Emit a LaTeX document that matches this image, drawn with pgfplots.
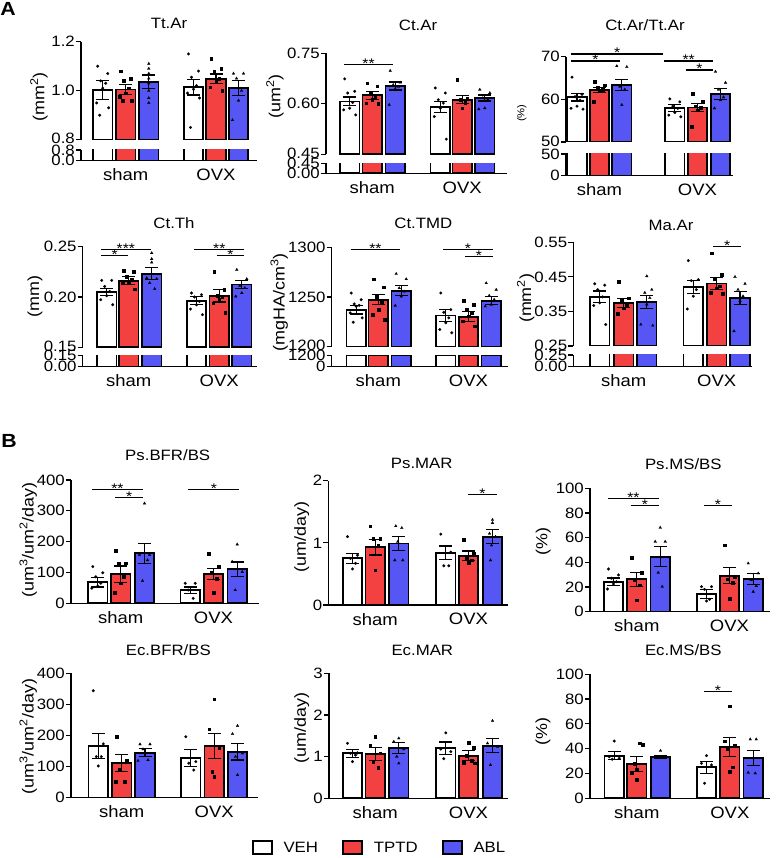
\documentclass[border=0pt]{standalone}
\usepackage{fontspec}
\setmainfont{Liberation Sans}[FakeStretch=1.12]
\usepackage{pgfplots}
\pgfplotsset{compat=1.18}
\definecolor{tred}{RGB}{243,64,64}
\definecolor{ablue}{RGB}{86,86,245}
\newcommand\fs{\fontsize{15pt}{15pt}\selectfont}
\newcommand\yfs{\fontsize{16pt}{16pt}\selectfont}
\newcommand\cfs{\fontsize{16.5pt}{16.5pt}\selectfont}
\newcommand\sfs{\fontsize{14pt}{14pt}\selectfont}
\newcommand\up[1]{\raisebox{2pt}{#1}}
\newcommand\sig[4]{\draw[line width=1.1pt, black] (axis cs:#1,#3) -- (axis cs:#2,#3) node[midway, above, inner sep=0pt, yshift=-4.5pt, font=\sfs] {#4};}
\pgfplotsset{
  base/.style={scale only axis, clip mode=individual, anchor=south west,
    axis line style={line width=1.2pt, black},
    every tick/.style={line width=1.2pt, black},
    tick align=outside, major tick length=5pt,
    yticklabel style={font=\fs, inner sep=1pt},
    xticklabel style={font=\cfs, inner sep=1pt, yshift=-2pt},
    xtick style={draw=none}},
  upper/.style={base, axis x line=none, axis y line*=left, xtick=\empty},
  lower/.style={base, axis x line*=bottom, axis y line*=left},
  full/.style={base, axis x line*=bottom, axis y line*=left},
  barN/.style={ybar, bar width=19.5pt, bar shift=0pt, draw=black, line width=1.8pt},
  barE/.style={barN, error bars/y dir=both, error bars/y explicit,
    error bars/error bar style={line width=1.2pt, black},
    error bars/error mark options={rotate=90, line width=1.2pt, black, mark size=6.5pt}},
  veh/.style={fill=white}, tptd/.style={fill=tred}, abl/.style={fill=ablue},
  vp/.style={only marks, mark=*, mark size=1.4pt, mark options={black, fill=black, line width=0.2pt}},
  tp/.style={only marks, mark=square*, mark size=1.3pt, mark options={black, fill=black, line width=0.2pt}},
  ap/.style={only marks, mark=triangle*, mark size=1.6pt, mark options={black, fill=black, line width=0.2pt}},
}
\begin{document}
\begin{tikzpicture}
\path[use as bounding box] (0,0) rectangle (777pt,858pt);
% ---------------- A1 Tt.Ar
\begin{axis}[upper, at={(81pt,718.3pt)}, width=176pt, height=98pt, xmin=81, xmax=257, ymin=0.8, ymax=1.2,
  ytick={0.8,1.0,1.2}, yticklabels={\up{0.8},1.0,1.2}]
\addplot[veh, barE] coordinates {(102.7,1.003) +- (0,0.04) (193.5,1.014) +- (0,0.032)};
\addplot[tptd, barE] coordinates {(125.8,1.005) +- (0,0.02) (216,1.048) +- (0,0.02)};
\addplot[abl, barE] coordinates {(148.8,1.037) +- (0,0.027) (238.5,1.01) +- (0,0.03)};
\addplot[vp] coordinates {(97.7,1.10) (107.7,1.07) (100.7,1.04) (105.7,1.03) (102.7,1.01) (96.7,0.95) (108.7,0.93) (99.7,0.90)
  (188.5,1.15) (198.5,1.08) (191.5,1.055) (196.5,1.02) (193.5,1.006) (187.5,0.99) (199.5,0.97) (190.5,0.85)};
\addplot[tp] coordinates {(120.8,1.08) (130.8,1.05) (123.8,1.04) (128.8,1.01) (125.8,0.99) (119.8,0.975) (131.8,0.96) (122.8,0.96)
  (211,1.13) (221,1.09) (214,1.08) (219,1.05) (216,1.037) (210,1.014) (222,1.0)};
\addplot[ap] coordinates {(148.8,1.11) (148.8,1.09) (148.8,1.07) (148.8,1.05) (148.8,1.03) (148.8,1.00) (148.8,0.97) (148.8,0.95)
  (233.5,1.07) (243.5,1.07) (236.5,1.05) (241.5,1.00) (238.5,0.96) (232.5,0.88)};
\end{axis}
\begin{axis}[lower, at={(81pt,697.3pt)}, width=176pt, height=10.7pt, xmin=81, xmax=257, ymin=0, ymax=0.8,
  ytick={0,0.8}, yticklabels={0.0,0.8}, xtick={125.8,216}, xticklabels={sham,OVX}]
\addplot[veh, barN] coordinates {(102.7,1.003) (193.5,1.014)};
\addplot[tptd, barN] coordinates {(125.8,1.005) (216,1.048)};
\addplot[abl, barN] coordinates {(148.8,1.037) (238.5,1.01)};
\end{axis}
\node[font=\fs] at (169pt,835pt) {Tt.Ar};
\node[font=\yfs, rotate=90] at (39pt,761pt) {(mm\textsuperscript{2})};
\node[font=\fontsize{19pt}{19pt}\selectfont\bfseries] at (8pt,849pt) {A};
% ---------------- A2 Ct.Ar
\begin{axis}[upper, at={(326pt,703.7pt)}, width=181pt, height=101pt, xmin=326, xmax=507, ymin=0.45, ymax=0.75,
  ytick={0.45,0.60,0.75}, yticklabels={\up{0.45},0.60,0.75}]
\addplot[veh, barE] coordinates {(349.7,0.607) +- (0,0.013) (440.3,0.590) +- (0,0.016)};
\addplot[tptd, barE] coordinates {(372.2,0.625) +- (0,0.012) (462.2,0.612) +- (0,0.012)};
\addplot[abl, barE] coordinates {(395.2,0.653) +- (0,0.012) (484.8,0.617) +- (0,0.009)};
\addplot[vp] coordinates {(344.7,.674) (354.7,.637) (347.7,.632) (352.7,.604) (349.7,.587) (343.7,.582) (355.7,.567)
  (435.3,.647) (445.3,.632) (438.3,.612) (443.3,.602) (440.3,.587) (434.3,.562) (446.3,.495)};
\addplot[tp] coordinates {(367.2,.661) (377.2,.653) (370.2,.632) (375.2,.622) (372.2,.612) (366.2,.602) (378.2,.60)
  (457.2,.671) (467.2,.615) (460.2,.612) (465.2,.604) (462.2,.587)};
\addplot[ap] coordinates {(390.2,.698) (400.2,.663) (393.2,.656) (398.2,.651) (395.2,.644) (389.2,.597)
  (479.8,.642) (489.8,.632) (482.8,.617) (487.8,.612) (484.8,.587) (478.8,.584)};
\sig{344.3}{392.7}{0.7173}{**}
\end{axis}
\begin{axis}[lower, at={(326pt,684.7pt)}, width=181pt, height=10pt, xmin=326, xmax=507, ymin=0, ymax=0.45,
  ytick={0,0.45}, yticklabels={0.00,0.45}, xtick={372.2,462.2}, xticklabels={sham,OVX}]
\addplot[veh, barN] coordinates {(349.7,0.607) (440.3,0.590)};
\addplot[tptd, barN] coordinates {(372.2,0.625) (462.2,0.612)};
\addplot[abl, barN] coordinates {(395.2,0.653) (484.8,0.617)};
\end{axis}
\node[font=\fs] at (418pt,833pt) {Ct.Ar};
\node[font=\yfs, rotate=90] at (275pt,761.3pt) {(um\textsuperscript{2})};
% ---------------- A3 Ct.Ar/Tt.Ar
\begin{axis}[upper, at={(566pt,716pt)}, width=167pt, height=85.3pt, xmin=566, xmax=733, ymin=50, ymax=70,
  ytick={50,60,70}, yticklabels={\up{50},60,70}]
\addplot[veh, barE] coordinates {(577,60.5) +- (0,0.9) (674.8,57.9) +- (0,0.8)};
\addplot[tptd, barE] coordinates {(599.5,62.2) +- (0,0.6) (697.5,58.1) +- (0,1.0)};
\addplot[abl, barE] coordinates {(621.8,63.3) +- (0,1.3) (720.5,61.2) +- (0,1.25)};
\addplot[vp] coordinates {(572,65.2) (582,61.2) (575,60.6) (580,59.8) (577,58.4) (571,57.9) (583,57.7)
  (669.8,60.1) (679.8,59.4) (672.8,58.4) (677.8,57.9) (674.8,56.9) (668.8,56.3) (680.8,55.9)};
\addplot[tp] coordinates {(594.5,64.1) (604.5,63.3) (597.5,62.8) (602.5,62.3) (599.5,62.0) (593.5,59.4)
  (692.5,61.4) (702.5,59.4) (695.5,58.4) (700.5,58.1) (697.5,57.5) (691.5,53.6)};
\addplot[ap] coordinates {(616.8,67.8) (626.8,67.6) (619.8,63.0) (624.8,62.3) (621.8,58.7)
  (715.5,66.5) (725.5,63.9) (718.5,62.3) (723.5,60.5) (720.5,59.8) (714.5,57.9)};
\sig{571}{663.3}{70.63}{*}
\sig{571}{620}{68.99}{*}
\sig{664}{713.3}{68.99}{**}
\sig{685.7}{713.3}{66.89}{*}
\end{axis}
\begin{axis}[lower, at={(566pt,682.3pt)}, width=167pt, height=21.7pt, xmin=566, xmax=733, ymin=0, ymax=50,
  ytick={0,50}, yticklabels={0,50}, xtick={599.5,697.5}, xticklabels={sham,OVX}]
\addplot[veh, barN] coordinates {(577,60.5) (674.8,57.9)};
\addplot[tptd, barN] coordinates {(599.5,62.2) (697.5,58.1)};
\addplot[abl, barN] coordinates {(621.8,63.3) (720.5,61.2)};
\end{axis}
\node[font=\fs] at (645pt,833pt) {Ct.Ar/Tt.Ar};
\node[font=\fontsize{10pt}{10pt}\selectfont, rotate=90] at (521.7pt,744.7pt) {(\%)};
% ---------------- A4 Ct.Th
\begin{axis}[upper, at={(82.7pt,510.7pt)}, width=174.3pt, height=100.6pt, xmin=82.7, xmax=257, ymin=0.15, ymax=0.25,
  ytick={0.15,0.20,0.25}, yticklabels={\up{0.15},0.20,0.25}]
\addplot[veh, barE] coordinates {(106.7,0.2046) +- (0,0.0035) (196.5,0.1963) +- (0,0.004)};
\addplot[tptd, barE] coordinates {(128.8,0.2162) +- (0,0.004) (219.2,0.2013) +- (0,0.0063)};
\addplot[abl, barE] coordinates {(151.7,0.2232) +- (0,0.0058) (241.8,0.2125) +- (0,0.004)};
\addplot[vp] coordinates {(101.7,.2165) (111.7,.2165) (104.7,.2105) (109.7,.2056) (106.7,.2013) (100.7,.1973) (112.7,.1923)
  (191.5,.204) (201.5,.2023) (194.5,.200) (199.5,.1956) (196.5,.1923) (190.5,.188) (202.5,.1824)};
\addplot[tp] coordinates {(123.8,.226) (133.8,.2255) (126.8,.2205) (131.8,.2172) (128.8,.2155) (122.8,.2139) (134.8,.208)
  (214.2,.2255) (224.2,.2073) (217.2,.2013) (222.2,.200) (219.2,.1973) (213.2,.194) (225.2,.1847)};
\addplot[ap] coordinates {(151.7,.2437) (151.7,.2378) (151.7,.2344) (146.7,.2189) (156.7,.2179) (149.7,.2139) (154.7,.208)
  (236.8,.2271) (246.8,.2179) (239.8,.2112) (244.8,.209) (241.8,.204) (235.8,.2006)};
\sig{101}{150.7}{0.2474}{***}
\sig{101}{128.3}{0.2408}{*}
\sig{194.3}{244.3}{0.2474}{**}
\sig{216.7}{244.3}{0.2408}{*}
\end{axis}
\begin{axis}[lower, at={(82.7pt,491.3pt)}, width=174.3pt, height=11pt, xmin=82.7, xmax=257, ymin=0, ymax=0.15,
  ytick={0,0.15}, yticklabels={0.00,0.15}, xtick={128.8,219.2}, xticklabels={sham,OVX}]
\addplot[veh, barN] coordinates {(106.7,0.2046) (196.5,0.1963)};
\addplot[tptd, barN] coordinates {(128.8,0.2162) (219.2,0.2013)};
\addplot[abl, barN] coordinates {(151.7,0.2232) (241.8,0.2125)};
\end{axis}
\node[font=\fs] at (174pt,634.7pt) {Ct.Th};
\node[font=\yfs, rotate=90] at (35pt,561.3pt) {(mm)};
% ---------------- A5 Ct.TMD
\begin{axis}[upper, at={(331.7pt,511.3pt)}, width=176.3pt, height=99.4pt, xmin=331.7, xmax=508, ymin=1200, ymax=1300,
  ytick={1200,1250,1300}, yticklabels={\up{1200},1250,1300}]
\addplot[veh, barE] coordinates {(356.2,1237.3) +- (0,4.5) (445.8,1231.3) +- (0,5.8)};
\addplot[tptd, barE] coordinates {(378.3,1247.3) +- (0,5) (468.5,1230) +- (0,5)};
\addplot[abl, barE] coordinates {(401.2,1256.3) +- (0,5) (491.2,1246.3) +- (0,4)};
\addplot[vp] coordinates {(351.2,1254) (361.2,1247.3) (354.2,1243) (359.2,1241.6) (356.2,1240.6) (350.2,1234) (362.2,1229) (353.2,1224.6)
  (440.8,1254) (450.8,1237.3) (443.8,1234.6) (448.8,1229) (445.8,1224) (439.8,1217.3) (451.8,1214)};
\addplot[tp] coordinates {(373.3,1268) (383.3,1260) (376.3,1250.6) (381.3,1244.6) (378.3,1237.3) (372.3,1232.3) (384.3,1227.3)
  (463.5,1246.6) (473.5,1242.3) (466.5,1238) (471.5,1234) (468.5,1230.6) (462.5,1225.6) (474.5,1220.6)};
\addplot[ap] coordinates {(396.2,1273.3) (406.2,1268) (399.2,1259) (404.2,1255.6) (401.2,1250.6) (395.2,1241.3)
  (486.2,1264) (496.2,1257.3) (489.2,1251.3) (494.2,1247.3) (491.2,1242.3) (485.2,1240.6)};
\sig{350.7}{400}{1298}{**}
\sig{443.3}{492.7}{1298}{*}
\sig{465}{492.7}{1290.6}{*}
\end{axis}
\begin{axis}[lower, at={(331.7pt,491.3pt)}, width=176.3pt, height=11pt, xmin=331.7, xmax=508, ymin=0, ymax=1200,
  ytick={0,1200}, yticklabels={0,1200}, xtick={378.3,468.5}, xticklabels={sham,OVX}]
\addplot[veh, barN] coordinates {(356.2,1237.3) (445.8,1231.3)};
\addplot[tptd, barN] coordinates {(378.3,1247.3) (468.5,1230)};
\addplot[abl, barN] coordinates {(401.2,1256.3) (491.2,1246.3)};
\end{axis}
\node[font=\fs] at (423.3pt,634.7pt) {Ct.TMD};
\node[font=\yfs, rotate=90] at (279.3pt,555.5pt) {(mgHA/cm\textsuperscript{3})};
% ---------------- A6 Ma.Ar
\begin{axis}[upper, at={(573.3pt,512pt)}, width=178.4pt, height=103.7pt, xmin=573.3, xmax=751.7, ymin=0.25, ymax=0.55,
  ytick={0.25,0.35,0.45,0.55}, yticklabels={\up{0.25},0.35,0.45,0.55}]
\addplot[veh, barE] coordinates {(599.7,0.392) +- (0,0.017) (693.3,0.421) +- (0,0.018)};
\addplot[tptd, barE] coordinates {(623.7,0.375) +- (0,0.0135) (716.7,0.431) +- (0,0.017)};
\addplot[abl, barE] coordinates {(646.8,0.377) +- (0,0.019) (740,0.389) +- (0,0.018)};
\addplot[vp] coordinates {(594.7,.43) (604.7,.426) (597.7,.413) (602.7,.392) (599.7,.375) (593.7,.367) (605.7,.312)
  (688.3,.497) (698.3,.442) (691.3,.439) (696.3,.413) (693.3,.394) (687.3,.357)};
\addplot[tp] coordinates {(618.7,.4355) (628.7,.389) (621.7,.384) (626.7,.370) (623.7,.360) (617.7,.344)
  (711.7,.519) (721.7,.457) (714.7,.444) (719.7,.423) (716.7,.418) (710.7,.404) (722.7,.402)};
\addplot[ap] coordinates {(646.8,.452) (651.8,.413) (644.8,.404) (649.8,.389) (646.8,.370) (640.8,.312) (652.8,.309)
  (735,.45) (745,.43) (738,.413) (743,.394) (740,.38) (734,.293)};
\sig{713.3}{741}{0.5373}{*}
\end{axis}
\begin{axis}[lower, at={(573.3pt,491.3pt)}, width=178.4pt, height=11.7pt, xmin=573.3, xmax=751.7, ymin=0, ymax=0.25,
  ytick={0,0.25}, yticklabels={0.00,0.25}, xtick={623.7,716.7}, xticklabels={sham,OVX}]
\addplot[veh, barN] coordinates {(599.7,0.392) (693.3,0.421)};
\addplot[tptd, barN] coordinates {(623.7,0.375) (716.7,0.431)};
\addplot[abl, barN] coordinates {(646.8,0.377) (740,0.389)};
\end{axis}
\node[font=\fs] at (671pt,633pt) {Ma.Ar};
\node[font=\yfs, rotate=90] at (525.7pt,559.7pt) {(mm\textsuperscript{2})};
% ---------------- B1 Ps.BFR/BS
\begin{axis}[full, at={(71pt,254.7pt)}, width=188pt, height=123.3pt, xmin=71, xmax=259, ymin=0, ymax=400,
  ytick={0,100,200,300,400}, yticklabels={0,100,200,300,400}, xtick={120.8,213.5}, xticklabels={sham,OVX}]
\addplot[veh, barE] coordinates {(97.8,68) +- (0,15) (190.2,43) +- (0,10)};
\addplot[tptd, barE] coordinates {(120.8,94) +- (0,27) (213.5,94) +- (0,18)};
\addplot[abl, barE] coordinates {(144.5,162) +- (0,33) (237.2,111) +- (0,23)};
\addplot[vp] coordinates {(92.8,119) (102.8,99) (95.8,86) (100.8,65) (97.8,56) (91.8,49)
  (185.2,65) (195.2,65) (188.2,43) (193.2,16)};
\addplot[tp] coordinates {(115.8,170) (125.8,130) (118.8,130) (123.8,86) (120.8,65) (114.8,34)
  (208.5,162) (218.5,119) (211.5,99) (216.5,81) (213.5,34)};
\addplot[ap] coordinates {(144.5,324) (139.5,157) (149.5,157) (147.5,140) (142.5,73)
  (237.2,191) (232.2,135) (242.2,102) (235.2,43)};
\sig{91.7}{143.3}{369.8}{**}
\sig{115}{143.3}{343.8}{*}
\sig{188.3}{239.3}{369.8}{*}
\end{axis}
\node[font=\fs] at (167.7pt,403pt) {Ps.BFR/BS};
\node[font=\yfs, rotate=90] at (28.3pt,318pt) {(um\textsuperscript{3}/um\textsuperscript{2}/day)};
\node[font=\fontsize{19pt}{19pt}\selectfont\bfseries] at (9pt,417pt) {B};
% ---------------- B2 Ps.MAR
\begin{axis}[full, at={(328.3pt,253pt)}, width=179.7pt, height=124.3pt, xmin=328.3, xmax=508, ymin=0, ymax=2,
  ytick={0,1,2}, yticklabels={0,1,2}, xtick={375.2,468.5}, xticklabels={sham,OVX}]
\addplot[veh, barE] coordinates {(352.5,0.75) +- (0,0.08) (445.8,0.84) +- (0,0.11)};
\addplot[tptd, barE] coordinates {(375.2,0.93) +- (0,0.125) (468.5,0.79) +- (0,0.08)};
\addplot[abl, barE] coordinates {(398.8,0.99) +- (0,0.11) (492.5,1.10) +- (0,0.11)};
\addplot[vp] coordinates {(347.5,1.10) (357.5,0.80) (350.5,0.75) (355.5,0.67) (352.5,0.58)
  (440.8,1.14) (450.8,0.85) (443.8,0.63) (448.8,0.63)};
\addplot[tp] coordinates {(370.2,1.27) (380.2,1.07) (373.2,1.07) (378.2,0.96) (375.2,0.56)
  (463.5,1.05) (473.5,0.83) (466.5,0.75) (471.5,0.72) (468.5,0.68)};
\addplot[ap] coordinates {(395.8,1.27) (401.8,1.24) (397.8,1.02) (394.8,0.72) (402.8,0.72)
  (492.5,1.37) (492.5,1.32) (489.5,1.15) (495.5,1.10) (491.5,0.96) (490.5,0.72)};
\sig{468.3}{496.7}{1.78}{*}
\end{axis}
\node[font=\fs] at (421.7pt,394.7pt) {Ps.MAR};
\node[font=\yfs, rotate=90] at (301.7pt,321.3pt) {(um/day)};
% ---------------- B3 Ps.MS/BS
\begin{axis}[full, at={(590pt,246.3pt)}, width=180pt, height=123.4pt, xmin=590, xmax=770, ymin=0, ymax=100,
  ytick={0,20,40,60,80,100}, yticklabels={0,20,40,60,80,100}, xtick={636.8,729.5}, xticklabels={sham,OVX}]
\addplot[veh, barE] coordinates {(613.5,24.3) +- (0,3) (706.5,14.4) +- (0,3.4)};
\addplot[tptd, barE] coordinates {(636.8,26.3) +- (0,5.7) (729.5,29.2) +- (0,6.3)};
\addplot[abl, barE] coordinates {(660.2,44.6) +- (0,8) (753.2,26.5) +- (0,4.7)};
\addplot[vp] coordinates {(608.5,34.6) (618.5,29.8) (611.5,27.1) (616.5,24.3) (613.5,22.5) (607.5,18.4)
  (701.5,20.3) (711.5,20.3) (704.5,18.1) (709.5,10) (706.5,8.7)};
\addplot[tp] coordinates {(631.8,43.8) (641.8,31.6) (634.8,25.7) (639.8,21.7) (636.8,9.5)
  (724.5,54.1) (734.5,28.4) (727.5,26.3) (732.5,23.5) (729.5,10.8)};
\addplot[ap] coordinates {(660.2,68.1) (655.2,56.8) (665.2,56.8) (658.2,31.6) (662.2,20.3)
  (748.2,39.2) (758.2,31.1) (751.2,25.7) (756.2,20.8) (753.2,16.2)};
\sig{607.7}{659}{92}{**}
\sig{630.7}{659}{85.7}{*}
\sig{704.3}{731.7}{85.7}{*}
\end{axis}
\node[font=\fs] at (683.3pt,394pt) {Ps.MS/BS};
\node[font=\yfs, rotate=90] at (543.3pt,316.3pt) {(\%)};
% ---------------- B4 Ec.BFR/BS
\begin{axis}[full, at={(71pt,60.3pt)}, width=187pt, height=124.4pt, xmin=71, xmax=258, ymin=0, ymax=400,
  ytick={0,100,200,300,400}, yticklabels={0,100,200,300,400}, xtick={121.7,214.2}, xticklabels={sham,OVX}]
\addplot[veh, barE] coordinates {(98.3,166) +- (0,41) (190.8,127) +- (0,27)};
\addplot[tptd, barE] coordinates {(121.7,111) +- (0,28) (214.2,166) +- (0,40)};
\addplot[abl, barE] coordinates {(145,145) +- (0,13) (237.5,148) +- (0,27)};
\addplot[vp] coordinates {(93.3,344) (103.3,173) (96.3,132) (101.3,132) (98.3,102)
  (185.8,196) (195.8,116) (188.8,111) (193.8,89)};
\addplot[tp] coordinates {(116.7,196) (126.7,121) (119.7,91) (124.7,51) (115.7,51)
  (214.2,317) (209.2,220) (219.2,159) (212.2,84) (214.2,68)};
\addplot[ap] coordinates {(140,172) (150,172) (143,156) (148,121) (138,119)
  (237.5,231) (232.5,205) (242.5,143) (235.5,132) (237.5,73)};
\end{axis}
\node[font=\fs] at (168.3pt,208pt) {Ec.BFR/BS};
\node[font=\yfs, rotate=90] at (28.3pt,121.3pt) {(um\textsuperscript{3}/um\textsuperscript{2}/day)};
% ---------------- B5 Ec.MAR
\begin{axis}[full, at={(329pt,59.7pt)}, width=179pt, height=125pt, xmin=329, xmax=508, ymin=0, ymax=3,
  ytick={0,1,2,3}, yticklabels={0,1,2,3}, xtick={375.2,468.5}, xticklabels={sham,OVX},
  legend style={at={(0.282,-0.398)}, anchor=center, draw=none, fill=none, font=\fs, legend columns=3,
    /tikz/every odd column/.append style={column sep=9pt},
    /tikz/every even column/.append style={column sep=22pt}},
  legend image code/.code={\draw[#1] (0pt,-6pt) rectangle (19pt,7pt);}]
\addplot[veh, barE, forget plot] coordinates {(352.5,1.08) +- (0,0.1) (445.8,1.2) +- (0,0.15)};
\addplot[tptd, barE, forget plot] coordinates {(375.2,1.06) +- (0,0.16) (468.5,1.02) +- (0,0.12)};
\addplot[abl, barE, forget plot] coordinates {(398.8,1.2) +- (0,0.13) (492.5,1.26) +- (0,0.17)};
\addplot[vp, forget plot] coordinates {(347.5,1.32) (357.5,1.09) (350.5,1.08) (355.5,1.04) (352.5,0.88)
  (445.8,1.57) (440.8,1.18) (450.8,1.12) (443.8,0.95)};
\addplot[tp, forget plot] coordinates {(375.2,1.48) (370.2,1.28) (380.2,1.08) (373.2,0.88) (378.2,0.74)
  (468.5,1.33) (473.5,1.22) (466.5,1.02) (471.5,0.9) (463.5,0.85) (474.5,0.84)};
\addplot[ap, forget plot] coordinates {(398.8,1.44) (393.8,1.36) (403.8,1.18) (396.8,1.0) (398.8,0.84)
  (492.5,1.86) (487.5,1.32) (497.5,1.24) (490.5,0.8)};
\addlegendimage{draw=black, line width=1.8pt, fill=white}\addlegendentry{VEH}
\addlegendimage{draw=black, line width=1.8pt, fill=tred}\addlegendentry{TPTD}
\addlegendimage{draw=black, line width=1.8pt, fill=ablue}\addlegendentry{ABL}
\end{axis}
\node[font=\fs] at (422.3pt,208pt) {Ec.MAR};
\node[font=\yfs, rotate=90] at (301.7pt,129.7pt) {(um/day)};
% ---------------- B6 Ec.MS/BS
\begin{axis}[full, at={(590pt,59.7pt)}, width=180pt, height=124pt, xmin=590, xmax=770, ymin=0, ymax=100,
  ytick={0,20,40,60,80,100}, yticklabels={0,20,40,60,80,100}, xtick={636.8,729.8}, xticklabels={sham,OVX}]
\addplot[veh, barE] coordinates {(614.2,34.4) +- (0,3.4) (706.5,25) +- (0,4.7)};
\addplot[tptd, barE] coordinates {(636.8,27.7) +- (0,5.8) (729.8,41.6) +- (0,7.7)};
\addplot[abl, barE] coordinates {(660.5,33.5) +- (0,1.3) (753.2,32.7) +- (0,6)};
\addplot[vp] coordinates {(614.2,46.2) (609.2,33.5) (619.2,32.3) (612.2,31.5)
  (706.5,34.4) (701.5,28.2) (711.5,26.9) (704.5,12.1)};
\addplot[tp] coordinates {(639.8,44.4) (642.8,43.5) (634.8,28.2) (636.8,23.4) (631.8,20.2) (636.8,15.3)
  (729.8,74.4) (724.8,46.2) (734.8,43.0) (727.8,40) (732.8,25) (729.8,21.5)};
\addplot[ap] coordinates {(660.5,38.4) (655.5,33.5) (665.5,33.5) (658.5,33.1)
  (750.2,47.6) (756.2,47.6) (748.2,20.7) (755.2,20.2)};
\sig{704.3}{731.7}{86}{*}
\end{axis}
\node[font=\fs] at (683.3pt,208pt) {Ec.MS/BS};
\node[font=\yfs, rotate=90] at (543pt,126.3pt) {(\%)};
\end{tikzpicture}
\end{document}
